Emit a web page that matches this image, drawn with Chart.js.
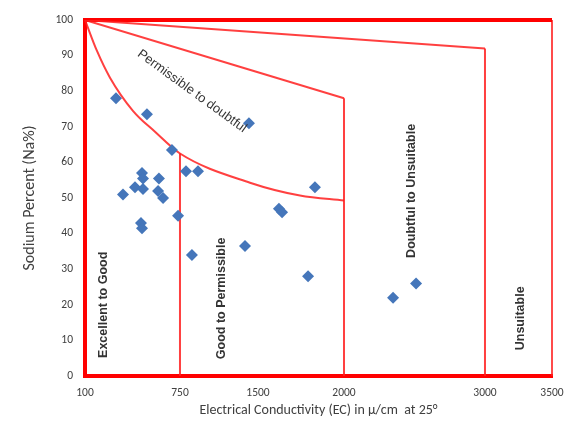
<!DOCTYPE html>
<html>
<head>
<meta charset="utf-8">
<script src="https://cdn.jsdelivr.net/npm/chart.js@4.4.0/dist/chart.umd.min.js"></script>
<style>
  html, body { margin: 0; padding: 0; background: #fff; }
  #wrap { width: 566px; height: 434px; }
</style>
</head>
<body>
<div id="wrap"><canvas id="chart" width="566" height="434"></canvas></div>
<script>
// EC tick labels (the axis is not linear in the original)
const ecTicks = [100, 750, 1500, 2000, 3000, 3500];
const ecStops = [0, 0.2034, 0.3704, 0.5546, 0.8565, 1];
const naTicks = [0, 10, 20, 30, 40, 50, 60, 70, 80, 90, 100];

// samples (EC, Na%)
const ecValues = [312, 524, 1413, 695, 490, 497, 360, 442, 497, 606, 600, 634, 737,
  808, 923, 483, 490, 865, 1375, 1622, 1640, 1831, 1791, 2348, 2511];
const naValues = [78, 73.5, 71, 63.5, 57, 55.5, 51, 53, 52.5, 55.5, 52, 50, 45,
  57.5, 57.5, 43, 41.5, 34, 36.5, 47, 46, 53, 28, 22, 26];

// class boundaries
const curveEC = [100, 182, 271, 428, 579, 750, 1423, 1744, 2000];
const curveNa = [100, 91.3, 83.8, 74.5, 68.6, 62.5, 54.3, 50.7, 49.3];
const classEC = [750, 2000, 3000];
const classTopNa = [62.5, 78, 92];

const zoneLabels = ['Permissible to doubtful', 'Excellent to Good', 'Good to Permissible',
  'Doubtful to Unsuitable', 'Unsuitable'];
const zoneEC = [865, 230, 1154, 2482, 3269];
const zoneNa = [80, 20, 21.8, 52, 16.2];
const zoneAngle = [36, -90, -90, -90, -90];

function ecToDecimal(v) {
  for (let i = 1; i < ecTicks.length; i++) {
    if (v <= ecTicks[i] || i === ecTicks.length - 1) {
      const t = (v - ecTicks[i - 1]) / (ecTicks[i] - ecTicks[i - 1]);
      return ecStops[i - 1] + t * (ecStops[i] - ecStops[i - 1]);
    }
  }
}
function decimalToEc(d) {
  for (let i = 1; i < ecStops.length; i++) {
    if (d <= ecStops[i] || i === ecStops.length - 1) {
      const t = (d - ecStops[i - 1]) / (ecStops[i] - ecStops[i - 1]);
      return ecTicks[i - 1] + t * (ecTicks[i] - ecTicks[i - 1]);
    }
  }
}

class PiecewiseScale extends Chart.LinearScale {
  determineDataLimits() {
    this.min = ecTicks[0];
    this.max = ecTicks[ecTicks.length - 1];
  }
  buildTicks() {
    return ecTicks.map(v => ({ value: v }));
  }
  getPixelForValue(value) {
    return this.getPixelForDecimal(ecToDecimal(value));
  }
  getValueForPixel(pixel) {
    return decimalToEc(this.getDecimalForPixel(pixel));
  }
}
PiecewiseScale.id = 'piecewise';
PiecewiseScale.defaults = Chart.LinearScale.defaults;
Chart.register(PiecewiseScale);

const red = 'rgba(255,30,30,0.85)';
const lineStyle = { type: 'line', borderColor: red, borderWidth: 2, pointRadius: 0, fill: false, order: 2 };

const datasets = [
  {
    label: 'Samples',
    data: ecValues.map((x, i) => ({ x, y: naValues[i] })),
    pointStyle: 'rectRot',
    pointRadius: 6,
    backgroundColor: '#4576ba',
    borderColor: '#4576ba',
    borderWidth: 0,
    order: 0
  },
  Object.assign({}, lineStyle, {
    data: curveEC.map((x, i) => ({ x, y: curveNa[i] })),
    cubicInterpolationMode: 'monotone'
  })
];
classEC.forEach((ec, i) => {
  if (i > 0) {
    datasets.push(Object.assign({}, lineStyle, {
      data: [{ x: curveEC[0], y: curveNa[0] }, { x: ec, y: classTopNa[i] }]
    }));
  }
  datasets.push(Object.assign({}, lineStyle, {
    data: [{ x: ec, y: classTopNa[i] }, { x: ec, y: 0 }]
  }));
});
// frame: top and right edges
datasets.push(Object.assign({}, lineStyle, {
  data: [{ x: ecTicks[0], y: 100 }, { x: ecTicks[ecTicks.length - 1], y: 100 }],
  borderColor: '#ff0000', borderWidth: 4, clip: false
}));
datasets.push(Object.assign({}, lineStyle, {
  data: [{ x: ecTicks[ecTicks.length - 1], y: 100 }, { x: ecTicks[ecTicks.length - 1], y: 0 }],
  borderColor: 'rgba(255,30,30,0.8)', borderWidth: 2, clip: false
}));

const zoneText = {
  id: 'zoneText',
  afterDatasetsDraw(chart) {
    const { ctx, scales: { x, y } } = chart;
    zoneLabels.forEach((txt, i) => {
      ctx.save();
      ctx.translate(x.getPixelForValue(zoneEC[i]), y.getPixelForValue(zoneNa[i]));
      ctx.rotate(zoneAngle[i] * Math.PI / 180);
      ctx.fillStyle = '#333';
      ctx.font = i === 0 ? '13px "Liberation Sans", Arial' : 'bold 12.5px "Liberation Sans", Arial';
      ctx.textAlign = 'center';
      ctx.textBaseline = 'middle';
      ctx.fillText(txt, 0, 0);
      ctx.restore();
    });
  }
};

new Chart(document.getElementById('chart'), {
  type: 'scatter',
  data: { datasets },
  options: {
    responsive: false,
    animation: false,
    layout: { padding: { top: 20, right: 14, left: 0, bottom: 0 } },
    plugins: { legend: { display: false }, tooltip: { enabled: false } },
    scales: {
      x: {
        type: 'piecewise',
        grid: { display: false, drawTicks: false },
        border: { color: '#ff0000', width: 4 },
        ticks: {
          autoSkip: false, maxRotation: 0, padding: 10,
          color: '#404040', font: { family: 'Carlito, "Liberation Sans", Arial', size: 11.5 },
          callback: v => String(v)
        },
        title: {
          display: true,
          text: 'Electrical Conductivity (EC) in µ/cm  at 25°',
          color: '#404040',
          font: { family: 'Carlito, "Liberation Sans", Arial', size: 14 },
          padding: { top: 0, bottom: 15 }
        },
        afterFit(scale) {
          scale.height = 58;
          scale.paddingLeft = 0;
          scale.paddingRight = 0;
        }
      },
      y: {
        min: 0, max: 100,
        afterBuildTicks(scale) { scale.ticks = naTicks.map(v => ({ value: v })); },
        grid: { display: false, drawTicks: false },
        border: { color: '#ff0000', width: 4 },
        ticks: {
          padding: 12, color: '#404040',
          font: { family: 'Carlito, "Liberation Sans", Arial', size: 11.5 }
        },
        title: {
          display: true,
          text: 'Sodium Percent (Na%)',
          color: '#404040',
          font: { family: 'Carlito, "Liberation Sans", Arial', size: 16 },
          padding: { top: 20, bottom: 0 }
        },
        afterFit(scale) {
          scale.width = 85;
          scale.paddingTop = 0;
          scale.paddingBottom = 0;
        }
      }
    }
  },
  plugins: [zoneText]
});
</script>
</body>
</html>
